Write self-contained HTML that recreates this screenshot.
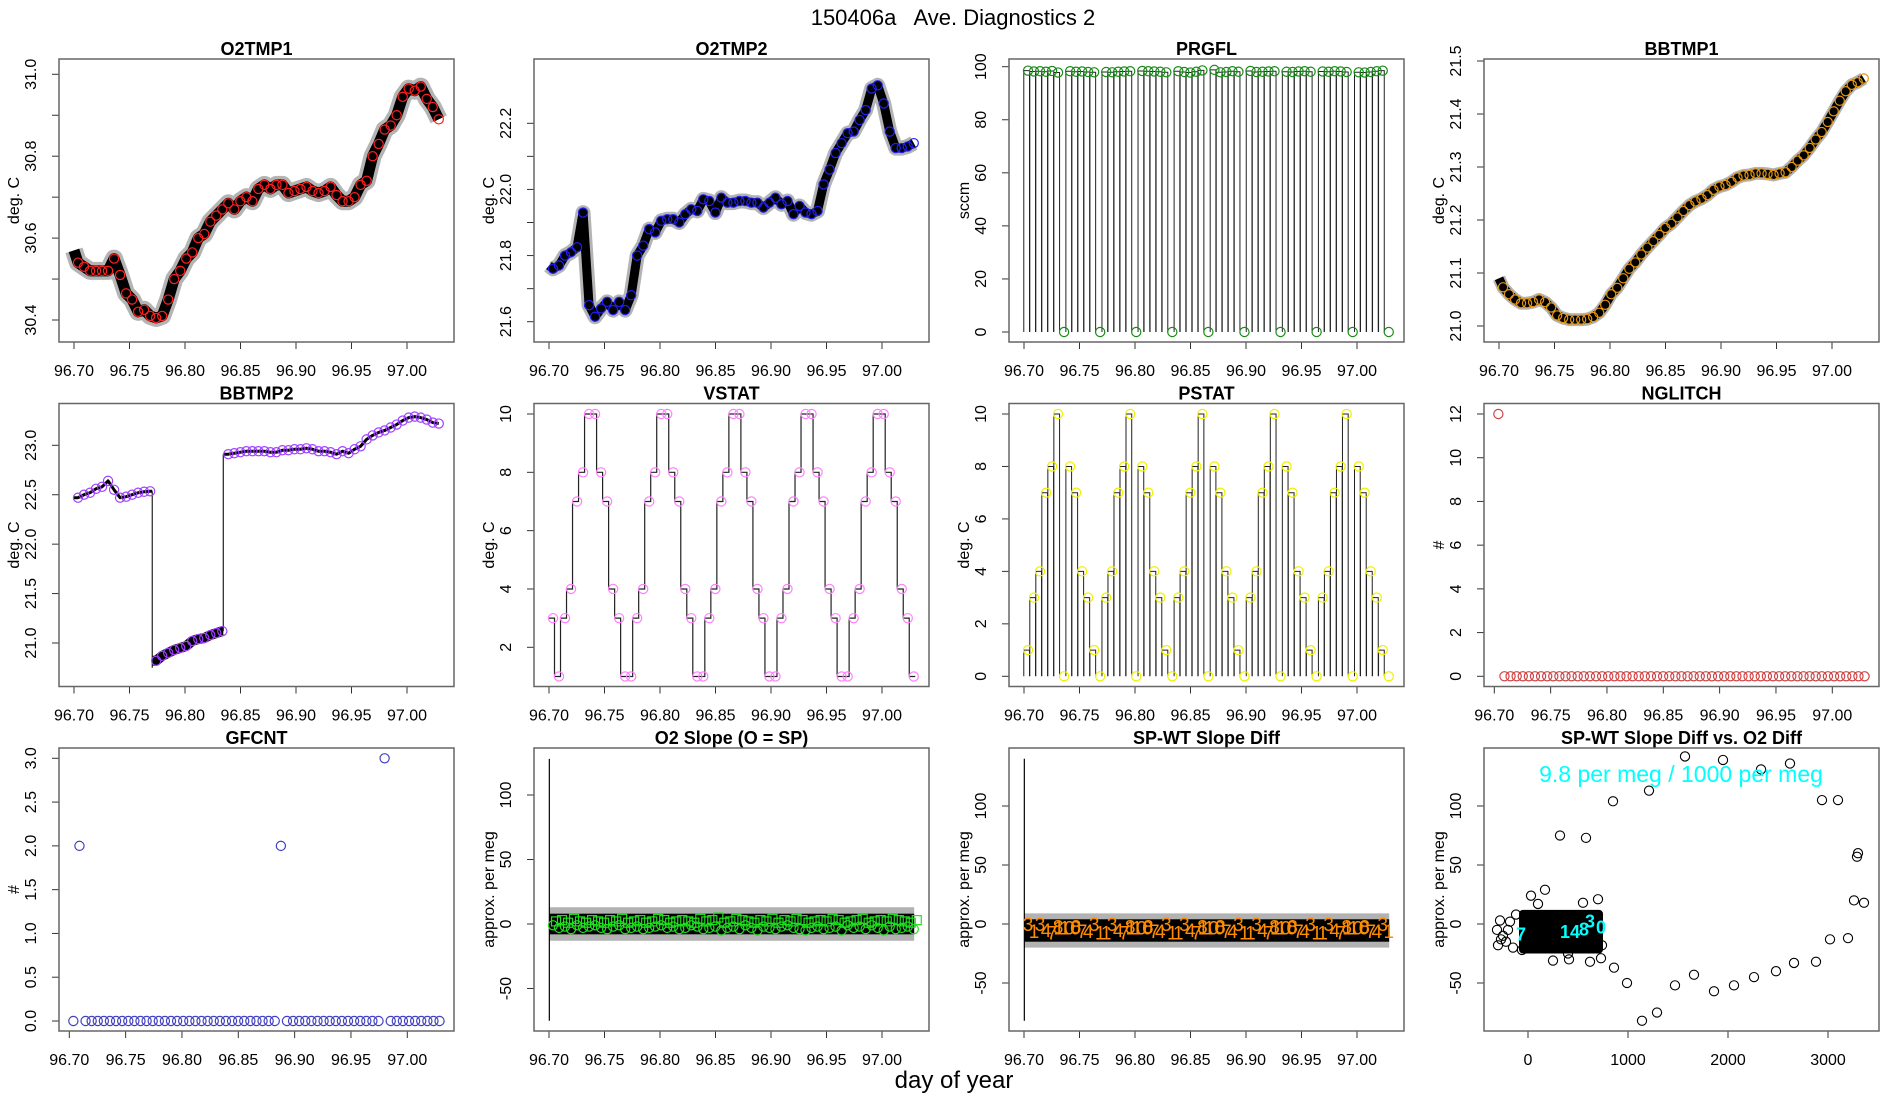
<!DOCTYPE html>
<html><head><meta charset="utf-8">
<style>
html,body{margin:0;padding:0;background:#fff;}
svg{display:block;font-family:"Liberation Sans",Arial,sans-serif;}
</style></head>
<body>
<svg id="fig" width="1900" height="1100" viewBox="0 0 1900 1100" xmlns="http://www.w3.org/2000/svg">
<rect x="0" y="0" width="1900" height="1100" fill="#fff"/>
<text x="953" y="25" font-size="22" text-anchor="middle" style="white-space:pre">150406a   Ave. Diagnostics 2</text>
<text x="954" y="1088" font-size="24" text-anchor="middle">day of year</text>
</svg>
<script>
// ---- data ----
const tStart = 96.7036, tStep = 0.005417, nPts = 61;
const o2tmp1 = [30.54,30.53,30.52,30.52,30.52,30.52,30.55,30.51,30.465,30.45,30.42,30.425,30.41,30.405,30.41,30.45,30.50,30.52,30.55,30.565,30.60,30.61,30.64,30.655,30.67,30.685,30.67,30.69,30.70,30.69,30.72,30.73,30.72,30.73,30.73,30.71,30.715,30.72,30.725,30.715,30.71,30.715,30.725,30.705,30.69,30.69,30.70,30.73,30.74,30.80,30.83,30.865,30.875,30.90,30.945,30.965,30.96,30.97,30.94,30.92,30.89];
const o2tmp2 = [21.76,21.77,21.80,21.81,21.825,21.93,21.65,21.615,21.64,21.66,21.635,21.66,21.635,21.68,21.80,21.83,21.88,21.87,21.905,21.91,21.91,21.90,21.925,21.94,21.935,21.97,21.965,21.93,21.975,21.96,21.96,21.965,21.965,21.96,21.96,21.945,21.96,21.975,21.955,21.965,21.925,21.95,21.93,21.925,21.935,22.015,22.06,22.11,22.14,22.17,22.175,22.21,22.24,22.305,22.315,22.26,22.175,22.125,22.125,22.13,22.14];
const prgfl = [98.5,98.2,98.3,98.1,98.4,97.8,0,98.3,98.1,98.2,98.0,97.9,0,98.0,97.9,98.1,98.2,98.3,0,98.4,98.3,98.2,98.1,97.9,0,98.3,98.0,97.8,98.1,98.6,0,98.8,97.9,98.0,98.3,98.1,0,98.4,98.0,98.1,98.2,98.3,0,98.1,98.0,98.2,98.3,98.1,0,98.2,98.1,98.3,98.2,98.0,0,97.9,97.8,98.0,98.3,98.5,0];
const bbtmp1 = [21.073,21.06,21.05,21.043,21.043,21.045,21.05,21.045,21.035,21.02,21.015,21.012,21.012,21.012,21.013,21.017,21.025,21.04,21.06,21.072,21.09,21.108,21.12,21.135,21.148,21.16,21.172,21.185,21.193,21.205,21.217,21.228,21.235,21.24,21.247,21.257,21.263,21.266,21.272,21.28,21.284,21.285,21.288,21.288,21.287,21.285,21.288,21.29,21.3,21.312,21.322,21.336,21.352,21.366,21.385,21.405,21.425,21.443,21.455,21.46,21.467];
const bbtmp2 = [22.47,22.50,22.52,22.56,22.58,22.64,22.55,22.47,22.48,22.50,22.52,22.53,22.535,20.82,20.87,20.90,20.93,20.95,20.97,21.02,21.04,21.05,21.08,21.10,21.12,22.91,22.92,22.93,22.94,22.94,22.94,22.94,22.93,22.93,22.95,22.95,22.96,22.96,22.97,22.96,22.94,22.94,22.93,22.91,22.94,22.92,22.96,22.99,23.06,23.10,23.13,23.15,23.18,23.21,23.25,23.28,23.29,23.28,23.26,23.23,23.22];
const bbtmp2Jumps = [96.7705, 96.8345];
const vstat = [3,1,3,4,7,8,10,10,8,7,4,3,1,1,3,4,7,8,10,10,8,7,4,3,1,1,3,4,7,8,10,10,8,7,4,3,1,1,3,4,7,8,10,10,8,7,4,3,1,1,3,4,7,8,10,10,8,7,4,3,1];
const pstat = [1,3,4,7,8,10,0,8,7,4,3,1,0,3,4,7,8,10,0,8,7,4,3,1,0,3,4,7,8,10,0,8,7,4,3,1,0,3,4,7,8,10,0,8,7,4,3,1,0,3,4,7,8,10,0,8,7,4,3,1,0];
const nglitch = [12,0,0,0,0,0,0,0,0,0,0,0,0,0,0,0,0,0,0,0,0,0,0,0,0,0,0,0,0,0,0,0,0,0,0,0,0,0,0,0,0,0,0,0,0,0,0,0,0,0,0,0,0,0,0,0,0,0,0,0,0];
const gfcnt = [0,2,0,0,0,0,0,0,0,0,0,0,0,0,0,0,0,0,0,0,0,0,0,0,0,0,0,0,0,0,0,0,0,0,2,0,0,0,0,0,0,0,0,0,0,0,0,0,0,0,0,3,0,0,0,0,0,0,0,0,0];
const o2slopeCirc = [-1,-3,-2,-4,-1,-3,-2,-1,-3,-4,-2,-1,-4,-3,-2,-4,-3,-2,-1,-3,-2,-4,-3,-1,-2,-4,-3,-2,-5,-3,-2,-4,-1,-3,-5,-2,-3,-4,-2,-1,-3,-4,-5,-3,-2,-4,-3,-2,-5,-1,-3,-2,-4,-1,-3,-5,-2,-4,-3,-2,-4];
const o2slopeSq = [2,3,1,4,2,1,3,2,1,3,2,4,1,2,3,1,2,4,3,1,2,3,2,1,4,2,3,5,1,2,4,3,2,1,3,2,4,1,3,2,4,3,1,2,3,2,4,3,1,2,3,4,1,2,3,2,4,3,2,1,3];
const o2slopeSpike = [-75,128];
const spwtY = [0,-6,0,-5,-7,-2,-3,-3,-2,-6,-6,0,-7,-7,0,-5,-7,-2,-3,-3,-2,-6,-6,0,-7,-7,0,-5,-7,-2,-3,-3,-2,-6,-6,0,-7,-7,0,-5,-7,-2,-3,-3,-2,-6,-6,0,-7,-7,0,-5,-7,-2,-3,-3,-2,-6,-6,0,-6];
const spwtSpike = [-82,140];
const scatX = [320,580,850,1210,1570,1950,2330,2620,2940,3100,3290,3300,3260,3360,3020,3200,2880,2660,2480,2260,2060,1860,1660,1470,1290,1140,990,860,620,730,410,30,170,-280,-300,-250,-200,-150,-220,-310,-270,-180,-120,-60,100,250,400,550,700,740];
const scatY = [75,73,104,113,142,139,131,136,105,105,57,60,20,18,-13,-12,-32,-33,-40,-45,-52,-57,-43,-52,-75,-82,-50,-37,-32,-29,-30,24,29,3,-18,-10,-5,-20,-15,-5,-13,2,8,-22,17,-31,-25,18,21,-18];
const clusterX = [-90,750];
const clusterY = [-25,12];
const cyanLabels = ["7","14","8","3","0"];
const cyanX = [-70,420,560,620,730];
const cyanY = [-8,-6,-4,3,-2];

// ---- helpers ----
const NS = "http://www.w3.org/2000/svg";
const svg = document.getElementById('fig');
function mk(tag, attrs, parent){
  const e = document.createElementNS(NS, tag);
  for (const k in attrs) e.setAttribute(k, attrs[k]);
  (parent||svg).appendChild(e);
  return e;
}
const times = [];
for (let i=0;i<nPts;i++) times.push(tStart + i*tStep);

function panel(col,row,title,ylab,yref,xref,yticks,ylabs,name){
  const L = 59 + col*475, T = 59 + row*344.5, W = 395, H = 283;
  const g = mk('g',{});
  
  
  const ys = (v)=> T + yref[1] + (v - yref[0])*(yref[3]-yref[1])/(yref[2]-yref[0]);
  const xs = (v)=> L + xref[1] + (v - xref[0])*(xref[3]-xref[1])/(xref[2]-xref[0]);
  const t = mk('text',{x:L+W/2,y:T-4,'font-size':18,'font-weight':'bold','text-anchor':'middle'},g);
  t.textContent = title;
  
  
  const yl = mk('text',{x:0,y:0,'font-size':16,'text-anchor':'middle',transform:`translate(${col*475+19},${T+H/2}) rotate(-90)`},g);
  yl.textContent = ylab;
  
  
  const clip = 'clip-'+name;
  const cp = mk('clipPath',{id:clip},g);
  mk('rect',{x:L,y:T,width:W,height:H},cp);
  const plot = mk('g',{'clip-path':`url(#${clip})`},g);
  
  
  yticks.forEach((v,i)=>{
    const y = ys(v);
    mk('line',{x1:L,x2:L-7,y1:y,y2:y,stroke:'#333','stroke-width':1},g);
    if (ylabs[i] !== '') {
      const tx = mk('text',{x:0,y:0,'font-size':16,'text-anchor':'middle',transform:`translate(${L-23},${y}) rotate(-90)`},g);
      tx.textContent = ylabs[i];
      
      
    }
  });
  xref[4].forEach((v,i)=>{
    const x = xs(v);
    mk('line',{x1:x,x2:x,y1:T+H,y2:T+H+7,stroke:'#333','stroke-width':1},g);
    const tx = mk('text',{x:x,y:T+H+34,'font-size':16,'text-anchor':'middle'},g);
    tx.textContent = xref[5][i];
    
    
  });
  const bx = mk('rect',{x:L,y:T,width:W,height:H,fill:'none',stroke:'#666','stroke-width':1.5},g);
  
  
  return {g:plot, xs, ys, L, T, W, H};
}
const tTicks = [96.70,96.75,96.80,96.85,96.90,96.95,97.00];
const tLabs = ["96.70","96.75","96.80","96.85","96.90","96.95","97.00"];
const xrefT = [96.70,15,97.00,348,tTicks,tLabs];
const xrefG = [96.70,10.3,97.00,348.3,tTicks,tLabs];
function rng(a,b,s){const r=[];for(let v=a;v<=b+1e-9;v+=s)r.push(+v.toFixed(3));return r;}

function band(p, vals, startVal, w1, w2){
  let d = `M${p.xs(96.70)},${p.ys(startVal)}`;
  vals.forEach((v,i)=>{ d += ` L${p.xs(times[i])},${p.ys(v)}`; });
  const gp = mk('path',{d:d,fill:'none',stroke:'#444','stroke-width':w2,'stroke-linejoin':'round','stroke-opacity':0.4},p.g);
  
  
  const bp = mk('path',{d:d,fill:'none',stroke:'#000','stroke-width':w1,'stroke-linejoin':'round'},p.g);
  
  
}
function circles(p, vals, color, name, xsArr){
  vals.forEach((v,i)=>{
    const c = mk('circle',{cx:p.xs((xsArr||times)[i]),cy:p.ys(v),r:4.6,fill:'none',stroke:color,'stroke-width':1.2},p.g);
    
    
  });
}
function pulses(p, vals, name){
  let d='';
  vals.forEach((v,i)=>{
    if (v<=0) return;
    const xa = p.xs(times[i]-0.7*tStep), xb = p.xs(times[i]+0.25*tStep);
    d += `M${xa},${p.ys(0)} V${p.ys(v)} H${xb} V${p.ys(0)} `;
  });
  const pe = mk('path',{d:d,fill:'none',stroke:'#222','stroke-width':1},p.g);
  
  
}

// O2TMP1
let p = panel(0,0,'O2TMP1','deg. C',[31.0,15.3,30.4,261],xrefT,rng(30.4,31.0,0.1),["30.4","","30.6","","30.8","","31.0"],'o2tmp1');
band(p,o2tmp1,30.57,11,18);
circles(p,o2tmp1,'#ff2020','o2tmp1');
// O2TMP2
p = panel(1,0,'O2TMP2','deg. C',[22.2,64.3,21.6,262.7],xrefT,rng(21.6,22.2,0.1),["21.6","","21.8","","22.0","","22.2"],'o2tmp2');
band(p,o2tmp2,21.77,9,15);
circles(p,o2tmp2,'#2020ff','o2tmp2');
// PRGFL
p = panel(2,0,'PRGFL','sccm',[100,7.7,0,273],xrefT,[0,20,40,60,80,100],["0","20","40","60","80","100"],'prgfl');
pulses(p,prgfl,'prgfl');
circles(p,prgfl,'#1a8a1a','prgfl');
// BBTMP1
p = panel(3,0,'BBTMP1','deg. C',[21.5,2,21.0,267],xrefT,rng(21.0,21.5,0.1),["21.0","21.1","21.2","21.3","21.4","21.5"],'bbtmp1');
band(p,bbtmp1,21.09,9,13);
circles(p,bbtmp1,'#e8960a','bbtmp1');
// BBTMP2
p = panel(0,1,'BBTMP2','deg. C',[23.0,41.8,21.0,239.5],xrefT,rng(21.0,23.0,0.5),["21.0","21.5","22.0","22.5","23.0"],'bbtmp2');
(function(){
  const seg = [[0,12],[13,24],[25,60]];
  const widths = [3,10,3];
  let prevEnd = null;
  seg.forEach((s,k)=>{
    const xStart = k===0 ? 96.70 : bbtmp2Jumps[k-1];
    const xEnd = k===2 ? times[60] : bbtmp2Jumps[k];
    let d = `M${p.xs(xStart)},${p.ys(bbtmp2[s[0]])}`;
    for (let i=s[0];i<=s[1];i++) d += ` L${p.xs(times[i])},${p.ys(bbtmp2[i])}`;
    d += ` L${p.xs(xEnd)},${p.ys(bbtmp2[s[1]])}`;
    const l = mk('path',{d:d,fill:'none',stroke:'#000','stroke-width':widths[k],'stroke-linejoin':'round'},p.g);
    
    
  });
  bbtmp2Jumps.forEach((jt,k)=>{
    const a = k===0 ? bbtmp2[12] : bbtmp2[24];
    const b = k===0 ? 20.75 : bbtmp2[25];
    const v = mk('line',{x1:p.xs(jt),x2:p.xs(jt),y1:p.ys(a),y2:p.ys(b),stroke:'#222','stroke-width':1.2},p.g);
    
    
  });
})();
circles(p,bbtmp2,'#a040ff','bbtmp2');
// VSTAT
p = panel(1,1,'VSTAT','deg. C',[10,10.5,2,243.8],xrefT,[2,4,6,8,10],["2","4","6","8","10"],'vstat');
(function(){
  let d='';
  vstat.forEach((v,i)=>{
    const xa = p.xs(times[i]-0.7*tStep), xb = p.xs(times[i]+0.25*tStep);
    d += (i===0?`M${xa},${p.ys(v)}`:` V${p.ys(v)}`) + ` H${xb}`;
  });
  const l = mk('path',{d:d,fill:'none',stroke:'#222','stroke-width':1.2},p.g);
  
  
})();
circles(p,vstat,'#ff80ff','vstat');
// PSTAT
p = panel(2,1,'PSTAT','deg. C',[10,10.5,0,272.8],xrefT,[0,2,4,6,8,10],["0","2","4","6","8","10"],'pstat');
pulses(p,pstat,'pstat');
circles(p,pstat,'#f0f000','pstat');
// NGLITCH
p = panel(3,1,'NGLITCH','#',[12,10.5,0,272.8],xrefG,[0,2,4,6,8,10,12],["0","2","4","6","8","10","12"],'nglitch');
circles(p,nglitch,'#cc4444','nglitch');
// GFCNT
p = panel(0,2,'GFCNT','#',[3,10.3,0,273],xrefG,rng(0,3,0.5),["0.0","0.5","1.0","1.5","2.0","2.5","3.0"],'gfcnt');
circles(p,gfcnt,'#4040c0','gfcnt');
// O2 Slope
p = panel(1,2,'O2 Slope (O = SP)','approx. per meg',[100,47,0,176],xrefT,[-50,0,50,100],["-50","0","50","100"],'o2-slope');
(function(){
  const r0 = mk('rect',{x:p.xs(96.70),y:p.ys(13),width:p.xs(97.029)-p.xs(96.70),height:p.ys(-13)-p.ys(13),fill:'#666',opacity:0.5},p.g);
  
  
  const r = mk('rect',{x:p.xs(96.70),y:p.ys(8),width:p.xs(97.029)-p.xs(96.70),height:p.ys(-8)-p.ys(8),fill:'#000'},p.g);
  
  
  const s = mk('line',{x1:p.xs(96.7003),x2:p.xs(96.7003),y1:p.ys(o2slopeSpike[0]),y2:p.ys(o2slopeSpike[1]),stroke:'#000','stroke-width':1.2},p.g);
  
  
  o2slopeSq.forEach((v,i)=>{
    const q = mk('rect',{x:p.xs(times[i]+tStep/2)-4.5,y:p.ys(v)-4.5,width:9,height:9,fill:'none',stroke:'#20e020','stroke-width':1.2},p.g);
    
    
  });
})();
circles(p,o2slopeCirc,'#20e020','o2-slope');
// SP-WT Slope Diff
p = panel(2,2,'SP-WT Slope Diff','approx. per meg',[100,58,0,176],xrefT,[-50,0,50,100],["-50","0","50","100"],'spwt');
(function(){
  const r0 = mk('rect',{x:p.xs(96.70),y:p.ys(9),width:p.xs(97.029)-p.xs(96.70),height:p.ys(-20)-p.ys(9),fill:'#666',opacity:0.5},p.g);
  
  
  const r = mk('rect',{x:p.xs(96.70),y:p.ys(4),width:p.xs(97.029)-p.xs(96.70),height:p.ys(-15)-p.ys(4),fill:'#000'},p.g);
  
  
  const s = mk('line',{x1:p.xs(96.7003),x2:p.xs(96.7003),y1:p.ys(spwtSpike[0]),y2:p.ys(spwtSpike[1]),stroke:'#000','stroke-width':1.2},p.g);
  
  
  vstat.forEach((v,i)=>{
    const t = mk('text',{x:p.xs(times[i]),y:p.ys(spwtY[i])+7,'font-size':19,fill:'#ff8c00','text-anchor':'middle'},p.g);
    t.textContent = String(v);
    
    
  });
})();
// Scatter
p = panel(3,2,'SP-WT Slope Diff vs. O2 Diff','approx. per meg',[100,58,0,176],[0,44,3000,344,[0,1000,2000,3000],["0","1000","2000","3000"]],[-50,0,50,100],["-50","0","50","100"],'scatter');
(function(){
  const r = mk('rect',{x:p.xs(clusterX[0]),y:p.ys(clusterY[1]),width:p.xs(clusterX[1])-p.xs(clusterX[0]),height:p.ys(clusterY[0])-p.ys(clusterY[1]),fill:'#000',rx:4},p.g);
  
  
  scatX.forEach((x,i)=>{
    const c = mk('circle',{cx:p.xs(x),cy:p.ys(scatY[i]),r:4.6,fill:'none',stroke:'#000','stroke-width':1.1},p.g);
    
    
  });
  cyanLabels.forEach((s,i)=>{
    const t = mk('text',{x:p.xs(cyanX[i]),y:p.ys(cyanY[i])+7,'font-size':18,'font-weight':'bold',fill:'#00ffff','text-anchor':'middle'},p.g);
    t.textContent = s;
    
    
  });
  const a = mk('text',{x:p.L+197,y:p.T+34,'font-size':23,fill:'#00ffff','text-anchor':'middle'},p.g);
  a.textContent = '9.8 per meg / 1000 per meg';
  
  
})();
</script>
</body></html>
